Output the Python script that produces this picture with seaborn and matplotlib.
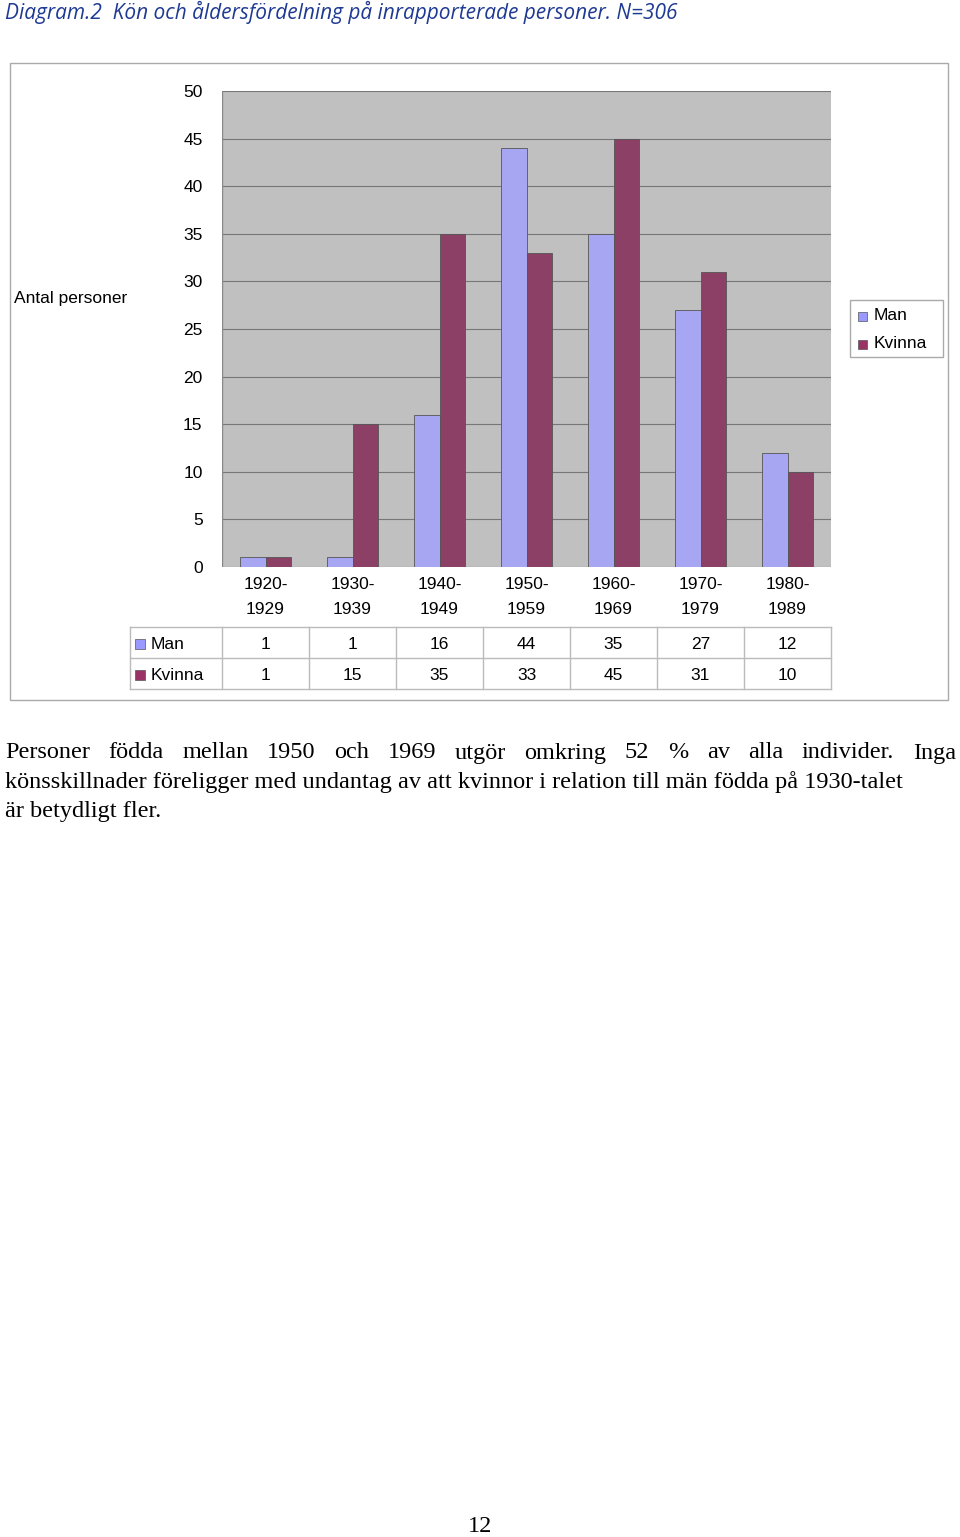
import matplotlib
matplotlib.use("Agg")
import matplotlib.pyplot as plt
from matplotlib.patches import Rectangle
from matplotlib.lines import Line2D
import seaborn as sns
import pandas as pd

categories = ["1920-\n1929", "1930-\n1939", "1940-\n1949", "1950-\n1959", "1960-\n1969", "1970-\n1979", "1980-\n1989"]
man = [1, 1, 16, 44, 35, 27, 12]
kvinna = [1, 15, 35, 33, 45, 31, 10]
series = ["Man", "Kvinna"]
colors = {"Man": "#9999FF", "Kvinna": "#993366"}
yticks = list(range(0, 55, 5))

W, H = 960, 1537
fig = plt.figure(figsize=(W/100, H/100), dpi=100)
def P(x, y):
    return (x / W, 1 - y / H)

df = pd.DataFrame({"cat": categories * 2, "val": man + kvinna,
                   "ser": ["Man"] * 7 + ["Kvinna"] * 7})

L, R, T, B = 222, 831, 91, 567
ax = fig.add_axes([L/W, 1 - B/H, (R-L)/W, (B-T)/H])
ax.set_facecolor("#C0C0C0")
sns.barplot(data=df, x="cat", y="val", hue="ser", palette=colors, ax=ax,
            width=0.58, edgecolor="#555555", linewidth=0.6, legend=False, zorder=3)
ax.set_ylim(0, 50)
ax.set_xlim(-0.5, 6.5)
ax.set_yticks(yticks)
ax.set_yticklabels([str(t) for t in yticks], fontfamily="Liberation Sans", fontsize=12.5)
ax.tick_params(axis="y", length=0, pad=14)
ax.set_xticks([])
ax.set_xlabel(""); ax.set_ylabel("")
ax.grid(axis="y", color="#777777", linewidth=0.8, zorder=0)
for s in ax.spines.values():
    s.set_visible(False)
ax.axvline(-0.5, color="#888888", lw=1)

fnt = dict(fontfamily="Liberation Sans", fontsize=12.5)
fig.text(*P(14, 298), "Antal personer", va="center", ha="left", **fnt)

# outer border
fig.add_artist(Rectangle(P(10, 700), 938/W, 637/H, transform=fig.transFigure,
                         fill=False, edgecolor="#AAAAAA", lw=1))

# legend box
fig.add_artist(Rectangle(P(850, 357), 93/W, 57/H, transform=fig.transFigure,
                         fill=True, facecolor="white", edgecolor="#AAAAAA", lw=1))
for i, s in enumerate(series):
    y = 316 + i * 28
    fig.add_artist(Rectangle(P(858, y + 5), 9/W, 9/H, transform=fig.transFigure,
                             facecolor=colors[s], edgecolor="#555555", lw=0.5))
    fig.text(*P(874, y), s, va="center", ha="left", **fnt)

# table
cw = (R - L) / 7
for i, c in enumerate(categories):
    cx = L + cw * (i + 0.5)
    a, b = c.split("\n")
    fig.text(*P(cx, 584), a, ha="center", va="center", **fnt)
    fig.text(*P(cx, 609), b, ha="center", va="center", **fnt)
for y in (627, 658, 689):
    fig.add_artist(Line2D([130/W, R/W], [1 - y/H] * 2, color="#BBBBBB", lw=1))
for i in range(8):
    x = L + cw * i
    fig.add_artist(Line2D([x/W] * 2, [1 - 627/H, 1 - 689/H], color="#BBBBBB", lw=1))
fig.add_artist(Line2D([130/W] * 2, [1 - 627/H, 1 - 689/H], color="#BBBBBB", lw=1))
for r, (s, vals) in enumerate(zip(series, [man, kvinna])):
    y = 644 + r * 31
    fig.add_artist(Rectangle(P(135, y + 5), 10/W, 10/H, transform=fig.transFigure,
                             facecolor=colors[s], edgecolor="#555555", lw=0.5))
    fig.text(*P(151, y), s, va="center", ha="left", **fnt)
    for i, v in enumerate(vals):
        fig.text(*P(L + cw * (i + 0.5), y), str(v), ha="center", va="center", **fnt)

# title
fig.text(*P(5, 12), "Diagram.2  Kön och åldersfördelning på inrapporterade personer. N=306",
         color="#1F3A93", fontfamily="Open Sans", fontstyle="italic", fontsize=15,
         va="center", ha="left")

# paragraph
tf = dict(fontfamily="Liberation Serif", fontsize=17.5, va="center")
line1 = ["Personer", "födda", "mellan", "1950", "och", "1969", "utgör", "omkring", "52", "%", "av", "alla", "individer.", "Inga"]
fig.text(*P(5, 753), line1[0], ha="left", **tf)
fig.text(*P(956, 753), line1[-1], ha="right", **tf)
# spread middle words for justification
import numpy as np
r = fig.canvas.get_renderer()
widths = []
for w in line1:
    t = fig.text(0, 0, w, **tf); widths.append(t.get_window_extent(r).width); t.remove()
gap = (951 - sum(widths)) / (len(line1) - 1)
x = 5
for w, wd in zip(line1, widths):
    fig.text(*P(x, 753), w, ha="left", **tf) if w not in (line1[0], line1[-1]) else None
    x += wd + gap
fig.text(*P(5, 782), "könsskillnader föreligger med undantag av att kvinnor i relation till män födda på 1930-talet", ha="left", **tf)
fig.text(*P(5, 811), "är betydligt fler.", ha="left", **tf)
fig.text(*P(480, 1526), "12", ha="center", **tf)

fig.savefig("out.png", dpi=100)
